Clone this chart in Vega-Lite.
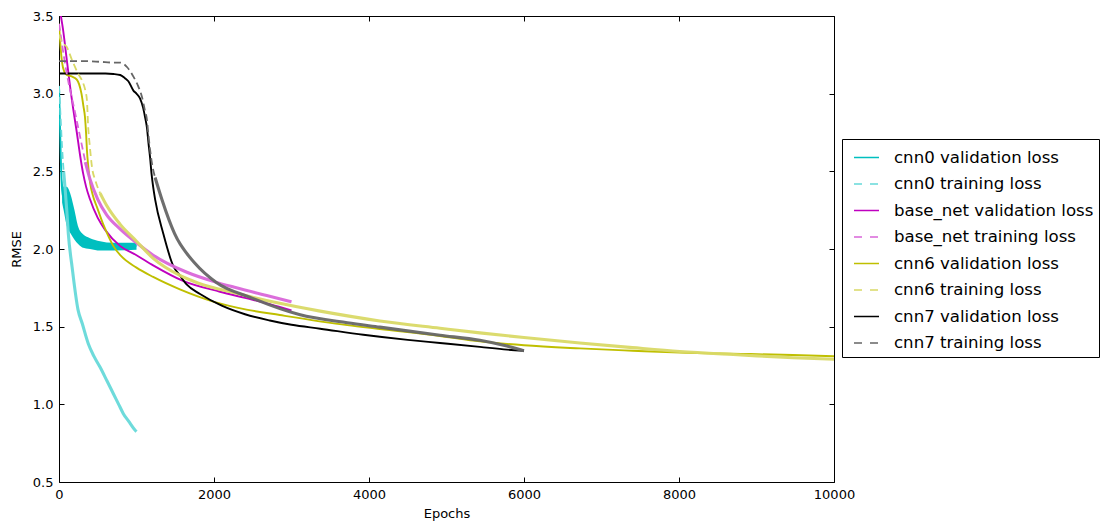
{
  "$schema": "https://vega.github.io/schema/vega-lite/v6.json",
  "width": 775,
  "height": 466,
  "autosize": "none",
  "padding": {"left": 59, "top": 16, "right": 277, "bottom": 50},
  "config": {
    "font": "DejaVu Sans",
    "view": {"stroke": "black", "strokeWidth": 1},
    "axis": {"grid": false, "domain": false, "tickColor": "black", "labelColor": "black", "titleColor": "black", "labelFontSize": 13, "titleFontSize": 13, "titleFontWeight": "normal", "tickSize": -5, "tickWidth": 1}
  },
  "datasets": {
    "band": [
      {"epoch": 40, "lo": 2.3, "hi": 2.45}, {"epoch": 60, "lo": 2.25, "hi": 2.4}, {"epoch": 100, "lo": 2.15, "hi": 2.4},
      {"epoch": 150, "lo": 2.1, "hi": 2.35}, {"epoch": 200, "lo": 2.06, "hi": 2.25}, {"epoch": 250, "lo": 2.03, "hi": 2.14},
      {"epoch": 300, "lo": 2.01, "hi": 2.1}, {"epoch": 400, "lo": 2.0, "hi": 2.07}, {"epoch": 530, "lo": 1.99, "hi": 2.05},
      {"epoch": 700, "lo": 1.99, "hi": 2.04}, {"epoch": 1000, "lo": 1.995, "hi": 2.04}
    ],
    "lines": [
      {"series": "cnn0 validation loss", "epoch": 0, "rmse": 3.05},
      {"series": "cnn0 validation loss", "epoch": 10, "rmse": 2.85},
      {"series": "cnn0 validation loss", "epoch": 25, "rmse": 2.55},
      {"series": "cnn0 validation loss", "epoch": 40, "rmse": 2.38},
      {"series": "cnn0 validation loss", "epoch": 60, "rmse": 2.32},
      {"series": "cnn0 validation loss", "epoch": 100, "rmse": 2.27},
      {"series": "cnn0 validation loss", "epoch": 150, "rmse": 2.2},
      {"series": "cnn0 validation loss", "epoch": 200, "rmse": 2.13},
      {"series": "cnn0 validation loss", "epoch": 250, "rmse": 2.08},
      {"series": "cnn0 validation loss", "epoch": 300, "rmse": 2.05},
      {"series": "cnn0 validation loss", "epoch": 400, "rmse": 2.03},
      {"series": "cnn0 validation loss", "epoch": 530, "rmse": 2.02},
      {"series": "cnn0 validation loss", "epoch": 700, "rmse": 2.015},
      {"series": "cnn0 validation loss", "epoch": 1000, "rmse": 2.02},

      {"series": "cnn0 training loss", "epoch": 0, "rmse": 3.05},
      {"series": "cnn0 training loss", "epoch": 20, "rmse": 2.85},
      {"series": "cnn0 training loss", "epoch": 40, "rmse": 2.65},
      {"series": "cnn0 training loss", "epoch": 60, "rmse": 2.5},
      {"series": "cnn0 training loss", "epoch": 80, "rmse": 2.38},
      {"series": "cnn0 training loss", "epoch": 100, "rmse": 2.25},
      {"series": "cnn0 training loss", "epoch": 120, "rmse": 2.1},
      {"series": "cnn0 training loss", "epoch": 170, "rmse": 1.88},
      {"series": "cnn0 training loss", "epoch": 245, "rmse": 1.61},
      {"series": "cnn0 training loss", "epoch": 300, "rmse": 1.52},
      {"series": "cnn0 training loss", "epoch": 378, "rmse": 1.39},
      {"series": "cnn0 training loss", "epoch": 450, "rmse": 1.31},
      {"series": "cnn0 training loss", "epoch": 529, "rmse": 1.24},
      {"series": "cnn0 training loss", "epoch": 620, "rmse": 1.15},
      {"series": "cnn0 training loss", "epoch": 700, "rmse": 1.07},
      {"series": "cnn0 training loss", "epoch": 770, "rmse": 1.0},
      {"series": "cnn0 training loss", "epoch": 830, "rmse": 0.94},
      {"series": "cnn0 training loss", "epoch": 900, "rmse": 0.89},
      {"series": "cnn0 training loss", "epoch": 980, "rmse": 0.835},
      {"series": "cnn0 training loss", "epoch": 1000, "rmse": 0.825},

      {"series": "base_net validation loss", "epoch": 0, "rmse": 3.6},
      {"series": "base_net validation loss", "epoch": 25, "rmse": 3.5},
      {"series": "base_net validation loss", "epoch": 50, "rmse": 3.42},
      {"series": "base_net validation loss", "epoch": 100, "rmse": 3.22},
      {"series": "base_net validation loss", "epoch": 142, "rmse": 3.05},
      {"series": "base_net validation loss", "epoch": 190, "rmse": 2.88},
      {"series": "base_net validation loss", "epoch": 230, "rmse": 2.75},
      {"series": "base_net validation loss", "epoch": 270, "rmse": 2.61},
      {"series": "base_net validation loss", "epoch": 310, "rmse": 2.49},
      {"series": "base_net validation loss", "epoch": 350, "rmse": 2.4},
      {"series": "base_net validation loss", "epoch": 400, "rmse": 2.32},
      {"series": "base_net validation loss", "epoch": 500, "rmse": 2.2},
      {"series": "base_net validation loss", "epoch": 600, "rmse": 2.12},
      {"series": "base_net validation loss", "epoch": 787, "rmse": 2.02},
      {"series": "base_net validation loss", "epoch": 1000, "rmse": 1.96},
      {"series": "base_net validation loss", "epoch": 1215, "rmse": 1.895},
      {"series": "base_net validation loss", "epoch": 1600, "rmse": 1.795},
      {"series": "base_net validation loss", "epoch": 2077, "rmse": 1.725},
      {"series": "base_net validation loss", "epoch": 2400, "rmse": 1.685},
      {"series": "base_net validation loss", "epoch": 2720, "rmse": 1.645},
      {"series": "base_net validation loss", "epoch": 3000, "rmse": 1.605},

      {"series": "base_net training loss", "epoch": 0, "rmse": 3.45},
      {"series": "base_net training loss", "epoch": 30, "rmse": 3.35},
      {"series": "base_net training loss", "epoch": 60, "rmse": 3.25},
      {"series": "base_net training loss", "epoch": 100, "rmse": 3.13},
      {"series": "base_net training loss", "epoch": 140, "rmse": 3.03},
      {"series": "base_net training loss", "epoch": 185, "rmse": 2.93},
      {"series": "base_net training loss", "epoch": 240, "rmse": 2.8},
      {"series": "base_net training loss", "epoch": 290, "rmse": 2.68},
      {"series": "base_net training loss", "epoch": 340, "rmse": 2.56},
      {"series": "base_net training loss", "epoch": 400, "rmse": 2.45},
      {"series": "base_net training loss", "epoch": 500, "rmse": 2.32},
      {"series": "base_net training loss", "epoch": 615, "rmse": 2.22},
      {"series": "base_net training loss", "epoch": 787, "rmse": 2.13},
      {"series": "base_net training loss", "epoch": 1000, "rmse": 2.04},
      {"series": "base_net training loss", "epoch": 1215, "rmse": 1.96},
      {"series": "base_net training loss", "epoch": 1650, "rmse": 1.85},
      {"series": "base_net training loss", "epoch": 2000, "rmse": 1.79},
      {"series": "base_net training loss", "epoch": 2290, "rmse": 1.75},
      {"series": "base_net training loss", "epoch": 2680, "rmse": 1.7},
      {"series": "base_net training loss", "epoch": 3000, "rmse": 1.66},

      {"series": "cnn6 validation loss", "epoch": 0, "rmse": 3.45},
      {"series": "cnn6 validation loss", "epoch": 20, "rmse": 3.3},
      {"series": "cnn6 validation loss", "epoch": 40, "rmse": 3.2},
      {"series": "cnn6 validation loss", "epoch": 70, "rmse": 3.14},
      {"series": "cnn6 validation loss", "epoch": 100, "rmse": 3.12},
      {"series": "cnn6 validation loss", "epoch": 170, "rmse": 3.11},
      {"series": "cnn6 validation loss", "epoch": 230, "rmse": 3.09},
      {"series": "cnn6 validation loss", "epoch": 260, "rmse": 3.06},
      {"series": "cnn6 validation loss", "epoch": 290, "rmse": 3.0},
      {"series": "cnn6 validation loss", "epoch": 315, "rmse": 2.92},
      {"series": "cnn6 validation loss", "epoch": 335, "rmse": 2.85},
      {"series": "cnn6 validation loss", "epoch": 350, "rmse": 2.74},
      {"series": "cnn6 validation loss", "epoch": 360, "rmse": 2.64},
      {"series": "cnn6 validation loss", "epoch": 380, "rmse": 2.52},
      {"series": "cnn6 validation loss", "epoch": 400, "rmse": 2.43},
      {"series": "cnn6 validation loss", "epoch": 440, "rmse": 2.34},
      {"series": "cnn6 validation loss", "epoch": 490, "rmse": 2.27},
      {"series": "cnn6 validation loss", "epoch": 570, "rmse": 2.16},
      {"series": "cnn6 validation loss", "epoch": 640, "rmse": 2.08},
      {"series": "cnn6 validation loss", "epoch": 700, "rmse": 2.02},
      {"series": "cnn6 validation loss", "epoch": 800, "rmse": 1.955},
      {"series": "cnn6 validation loss", "epoch": 1000, "rmse": 1.88},
      {"series": "cnn6 validation loss", "epoch": 1215, "rmse": 1.82},
      {"series": "cnn6 validation loss", "epoch": 1560, "rmse": 1.74},
      {"series": "cnn6 validation loss", "epoch": 2000, "rmse": 1.66},
      {"series": "cnn6 validation loss", "epoch": 2420, "rmse": 1.61},
      {"series": "cnn6 validation loss", "epoch": 2850, "rmse": 1.575},
      {"series": "cnn6 validation loss", "epoch": 3720, "rmse": 1.51},
      {"series": "cnn6 validation loss", "epoch": 4140, "rmse": 1.485},
      {"series": "cnn6 validation loss", "epoch": 4916, "rmse": 1.44},
      {"series": "cnn6 validation loss", "epoch": 5430, "rmse": 1.405},
      {"series": "cnn6 validation loss", "epoch": 6000, "rmse": 1.38},
      {"series": "cnn6 validation loss", "epoch": 6720, "rmse": 1.36},
      {"series": "cnn6 validation loss", "epoch": 7400, "rmse": 1.345},
      {"series": "cnn6 validation loss", "epoch": 8010, "rmse": 1.333},
      {"series": "cnn6 validation loss", "epoch": 8800, "rmse": 1.325},
      {"series": "cnn6 validation loss", "epoch": 9470, "rmse": 1.318},
      {"series": "cnn6 validation loss", "epoch": 10000, "rmse": 1.31},

      {"series": "cnn6 training loss", "epoch": 0, "rmse": 3.38},
      {"series": "cnn6 training loss", "epoch": 30, "rmse": 3.34},
      {"series": "cnn6 training loss", "epoch": 60, "rmse": 3.32},
      {"series": "cnn6 training loss", "epoch": 100, "rmse": 3.3},
      {"series": "cnn6 training loss", "epoch": 165, "rmse": 3.22},
      {"series": "cnn6 training loss", "epoch": 245, "rmse": 3.13},
      {"series": "cnn6 training loss", "epoch": 310, "rmse": 3.07},
      {"series": "cnn6 training loss", "epoch": 340, "rmse": 3.02},
      {"series": "cnn6 training loss", "epoch": 360, "rmse": 2.96},
      {"series": "cnn6 training loss", "epoch": 375, "rmse": 2.8},
      {"series": "cnn6 training loss", "epoch": 400, "rmse": 2.65},
      {"series": "cnn6 training loss", "epoch": 425, "rmse": 2.53},
      {"series": "cnn6 training loss", "epoch": 470, "rmse": 2.44},
      {"series": "cnn6 training loss", "epoch": 530, "rmse": 2.36},
      {"series": "cnn6 training loss", "epoch": 615, "rmse": 2.28},
      {"series": "cnn6 training loss", "epoch": 787, "rmse": 2.16},
      {"series": "cnn6 training loss", "epoch": 1000, "rmse": 2.05},
      {"series": "cnn6 training loss", "epoch": 1215, "rmse": 1.94},
      {"series": "cnn6 training loss", "epoch": 1560, "rmse": 1.83},
      {"series": "cnn6 training loss", "epoch": 1800, "rmse": 1.78},
      {"series": "cnn6 training loss", "epoch": 2290, "rmse": 1.715},
      {"series": "cnn6 training loss", "epoch": 2800, "rmse": 1.655},
      {"series": "cnn6 training loss", "epoch": 3370, "rmse": 1.6},
      {"series": "cnn6 training loss", "epoch": 4140, "rmse": 1.537},
      {"series": "cnn6 training loss", "epoch": 4916, "rmse": 1.49},
      {"series": "cnn6 training loss", "epoch": 5430, "rmse": 1.46},
      {"series": "cnn6 training loss", "epoch": 6000, "rmse": 1.43},
      {"series": "cnn6 training loss", "epoch": 6720, "rmse": 1.395},
      {"series": "cnn6 training loss", "epoch": 7400, "rmse": 1.365},
      {"series": "cnn6 training loss", "epoch": 8010, "rmse": 1.34},
      {"series": "cnn6 training loss", "epoch": 8800, "rmse": 1.318},
      {"series": "cnn6 training loss", "epoch": 9470, "rmse": 1.3},
      {"series": "cnn6 training loss", "epoch": 10000, "rmse": 1.29},

      {"series": "cnn7 validation loss", "epoch": 0, "rmse": 3.13},
      {"series": "cnn7 validation loss", "epoch": 200, "rmse": 3.13},
      {"series": "cnn7 validation loss", "epoch": 400, "rmse": 3.13},
      {"series": "cnn7 validation loss", "epoch": 600, "rmse": 3.13},
      {"series": "cnn7 validation loss", "epoch": 700, "rmse": 3.127},
      {"series": "cnn7 validation loss", "epoch": 790, "rmse": 3.12},
      {"series": "cnn7 validation loss", "epoch": 850, "rmse": 3.1},
      {"series": "cnn7 validation loss", "epoch": 895, "rmse": 3.08},
      {"series": "cnn7 validation loss", "epoch": 960, "rmse": 3.02},
      {"series": "cnn7 validation loss", "epoch": 1000, "rmse": 3.0},
      {"series": "cnn7 validation loss", "epoch": 1045, "rmse": 2.97},
      {"series": "cnn7 validation loss", "epoch": 1085, "rmse": 2.91},
      {"series": "cnn7 validation loss", "epoch": 1110, "rmse": 2.85},
      {"series": "cnn7 validation loss", "epoch": 1135, "rmse": 2.78},
      {"series": "cnn7 validation loss", "epoch": 1155, "rmse": 2.68},
      {"series": "cnn7 validation loss", "epoch": 1175, "rmse": 2.59},
      {"series": "cnn7 validation loss", "epoch": 1195, "rmse": 2.48},
      {"series": "cnn7 validation loss", "epoch": 1215, "rmse": 2.4},
      {"series": "cnn7 validation loss", "epoch": 1240, "rmse": 2.32},
      {"series": "cnn7 validation loss", "epoch": 1345, "rmse": 2.1},
      {"series": "cnn7 validation loss", "epoch": 1475, "rmse": 1.89},
      {"series": "cnn7 validation loss", "epoch": 1560, "rmse": 1.83},
      {"series": "cnn7 validation loss", "epoch": 1650, "rmse": 1.77},
      {"series": "cnn7 validation loss", "epoch": 1820, "rmse": 1.71},
      {"series": "cnn7 validation loss", "epoch": 2100, "rmse": 1.635},
      {"series": "cnn7 validation loss", "epoch": 2400, "rmse": 1.58},
      {"series": "cnn7 validation loss", "epoch": 2720, "rmse": 1.54},
      {"series": "cnn7 validation loss", "epoch": 3000, "rmse": 1.512},
      {"series": "cnn7 validation loss", "epoch": 3370, "rmse": 1.487},
      {"series": "cnn7 validation loss", "epoch": 3927, "rmse": 1.448},
      {"series": "cnn7 validation loss", "epoch": 4500, "rmse": 1.415},
      {"series": "cnn7 validation loss", "epoch": 4916, "rmse": 1.395},
      {"series": "cnn7 validation loss", "epoch": 5430, "rmse": 1.37},
      {"series": "cnn7 validation loss", "epoch": 5780, "rmse": 1.352},
      {"series": "cnn7 validation loss", "epoch": 6000, "rmse": 1.345},

      {"series": "cnn7 training loss", "epoch": 0, "rmse": 3.21},
      {"series": "cnn7 training loss", "epoch": 300, "rmse": 3.21},
      {"series": "cnn7 training loss", "epoch": 530, "rmse": 3.205},
      {"series": "cnn7 training loss", "epoch": 700, "rmse": 3.2},
      {"series": "cnn7 training loss", "epoch": 790, "rmse": 3.2},
      {"series": "cnn7 training loss", "epoch": 880, "rmse": 3.17},
      {"series": "cnn7 training loss", "epoch": 960, "rmse": 3.11},
      {"series": "cnn7 training loss", "epoch": 1020, "rmse": 3.05},
      {"series": "cnn7 training loss", "epoch": 1070, "rmse": 2.98},
      {"series": "cnn7 training loss", "epoch": 1105, "rmse": 2.9},
      {"series": "cnn7 training loss", "epoch": 1135, "rmse": 2.83},
      {"series": "cnn7 training loss", "epoch": 1155, "rmse": 2.73},
      {"series": "cnn7 training loss", "epoch": 1175, "rmse": 2.64},
      {"series": "cnn7 training loss", "epoch": 1200, "rmse": 2.55},
      {"series": "cnn7 training loss", "epoch": 1240, "rmse": 2.46},
      {"series": "cnn7 training loss", "epoch": 1330, "rmse": 2.315},
      {"series": "cnn7 training loss", "epoch": 1490, "rmse": 2.1},
      {"series": "cnn7 training loss", "epoch": 1760, "rmse": 1.905},
      {"series": "cnn7 training loss", "epoch": 2030, "rmse": 1.785},
      {"series": "cnn7 training loss", "epoch": 2460, "rmse": 1.69},
      {"series": "cnn7 training loss", "epoch": 3100, "rmse": 1.578},
      {"series": "cnn7 training loss", "epoch": 3720, "rmse": 1.525},
      {"series": "cnn7 training loss", "epoch": 4140, "rmse": 1.497},
      {"series": "cnn7 training loss", "epoch": 4916, "rmse": 1.445},
      {"series": "cnn7 training loss", "epoch": 5430, "rmse": 1.412},
      {"series": "cnn7 training loss", "epoch": 5780, "rmse": 1.375},
      {"series": "cnn7 training loss", "epoch": 6000, "rmse": 1.345}
    ]
  },
  "layer": [
    {
      "data": {"name": "band"},
      "mark": {"type": "area", "color": "#00BFBF", "opacity": 1, "interpolate": "monotone", "clip": true},
      "encoding": {
        "x": {"field": "epoch", "type": "quantitative", "scale": {"domain": [0, 10000], "nice": false, "zero": false}, "axis": null},
        "y": {"field": "lo", "type": "quantitative", "scale": {"domain": [0.5, 3.5], "nice": false, "zero": false}, "axis": null},
        "y2": {"field": "hi"}
      }
    },
    {
      "data": {"name": "lines"},
      "transform": [{"filter": "indexof(datum.series, 'validation') >= 0"}],
      "mark": {"type": "line", "interpolate": "monotone", "clip": true, "strokeWidth": 1.9},
      "encoding": {
        "x": {"field": "epoch", "type": "quantitative", "scale": {"domain": [0, 10000], "nice": false, "zero": false},
              "axis": {"orient": "bottom", "title": "Epochs", "values": [0, 2000, 4000, 6000, 8000, 10000], "format": "d", "labelPadding": 11, "titlePadding": 6, "labelFlush": false}},
        "y": {"field": "rmse", "type": "quantitative", "scale": {"domain": [0.5, 3.5], "nice": false, "zero": false},
              "axis": {"orient": "left", "title": "RMSE", "values": [0.5, 1.0, 1.5, 2.0, 2.5, 3.0, 3.5], "format": ".1f", "labelPadding": 11, "titlePadding": 9, "labelFlush": false}},
        "color": {
          "field": "series", "type": "nominal",
          "scale": {
            "domain": ["cnn0 validation loss", "cnn0 training loss", "base_net validation loss", "base_net training loss", "cnn6 validation loss", "cnn6 training loss", "cnn7 validation loss", "cnn7 training loss"],
            "range": ["#00BFBF", "#66D9D9", "#BF00BF", "#D966D9", "#BFBF00", "#D9D966", "#000000", "#666666"]
          },
          "legend": {
            "title": null, "orient": "none", "legendX": 783, "legendY": 123,
            "strokeColor": "black", "fillColor": "white", "padding": 5, "cornerRadius": 0,
            "labelFontSize": 16.6, "labelColor": "black", "labelOffset": 14, "labelLimit": 400,
            "symbolType": "stroke", "symbolSize": 625, "symbolStrokeWidth": 1.3, "symbolOffset": 6, "rowPadding": 3.5,
            "encode": {"symbols": {"update": {"strokeDash": {"signal": "indexof(datum.label, 'training') >= 0 ? [8, 8] : [1, 0]"}, "strokeWidth": {"value": 1.3}}}}
          }
        }
      }
    },
    {
      "data": {"name": "lines"},
      "transform": [{"filter": "indexof(datum.series, 'training') >= 0 && datum.epoch >= (datum.series === 'cnn0 training loss' ? 60 : datum.series === 'base_net training loss' ? 340 : datum.series === 'cnn6 training loss' ? 530 : 1240)"}],
      "mark": {"type": "line", "interpolate": "monotone", "clip": true, "strokeWidth": 3.1, "opacity": 0.95},
      "encoding": {
        "x": {"field": "epoch", "type": "quantitative", "axis": null},
        "y": {"field": "rmse", "type": "quantitative", "axis": null},
        "color": {"field": "series", "type": "nominal"}
      }
    },
    {
      "data": {"name": "lines"},
      "transform": [{"filter": "indexof(datum.series, 'training') >= 0 && datum.epoch <= (datum.series === 'cnn0 training loss' ? 60 : datum.series === 'base_net training loss' ? 340 : datum.series === 'cnn6 training loss' ? 530 : 1240)"}],
      "mark": {"type": "line", "interpolate": "monotone", "clip": true, "strokeWidth": 1.8, "strokeDash": [7, 4]},
      "encoding": {
        "x": {"field": "epoch", "type": "quantitative", "axis": null},
        "y": {"field": "rmse", "type": "quantitative", "axis": null},
        "color": {"field": "series", "type": "nominal"}
      }
    },
    {
      "data": {"name": "band"},
      "mark": {"type": "point", "opacity": 0},
      "encoding": {
        "x": {"field": "epoch", "type": "quantitative", "axis": {"orient": "top", "title": null, "labels": false, "values": [0, 2000, 4000, 6000, 8000, 10000]}},
        "y": {"field": "lo", "type": "quantitative", "axis": {"orient": "right", "title": null, "labels": false, "values": [0.5, 1.0, 1.5, 2.0, 2.5, 3.0, 3.5]}}
      }
    }
  ],
  "resolve": {"axis": {"x": "independent", "y": "independent"}}
}
